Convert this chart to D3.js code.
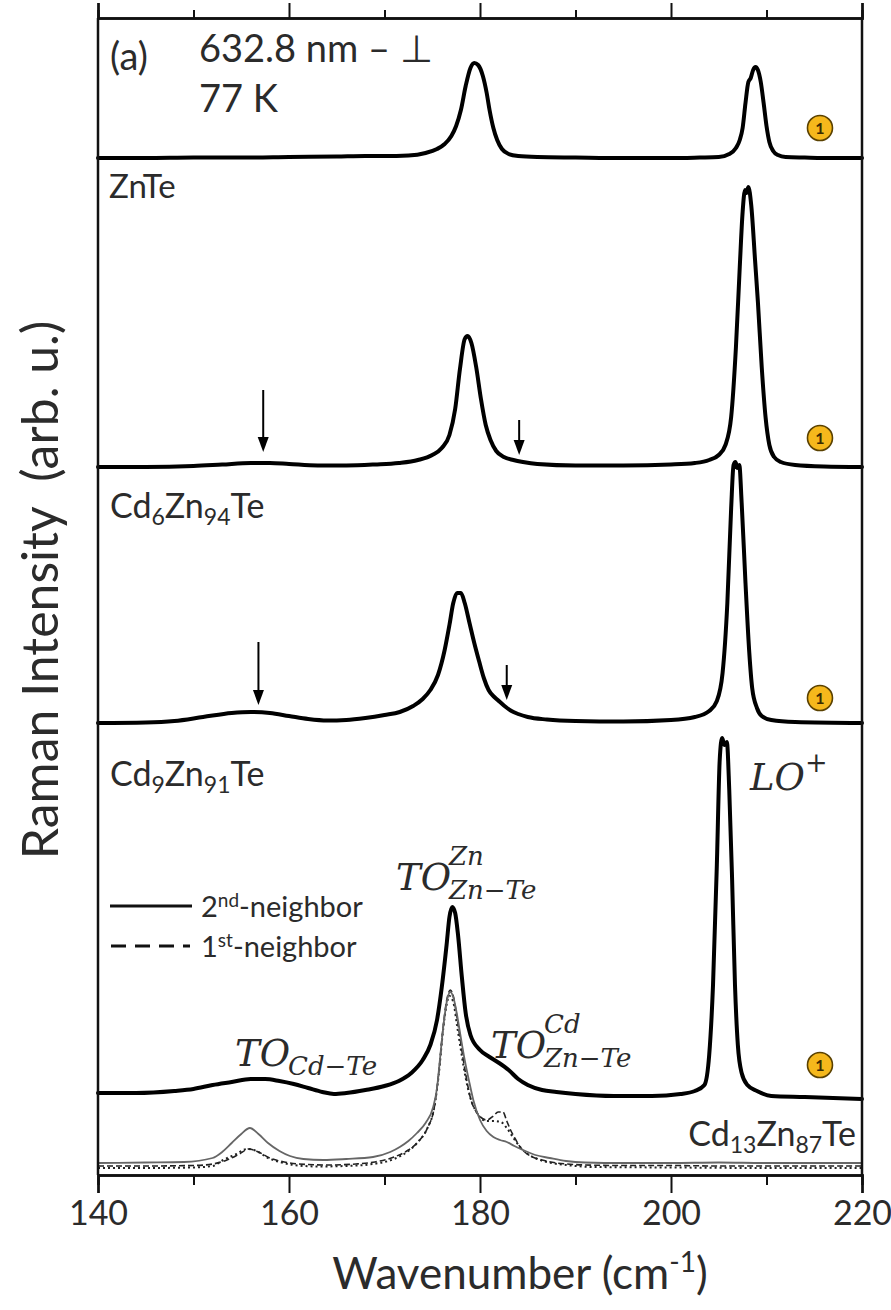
<!DOCTYPE html>
<html><head><meta charset="utf-8">
<script src="https://cdn.jsdelivr.net/npm/d3@7/dist/d3.min.js"></script>
<style>
html,body{margin:0;padding:0;background:#fff;}
svg text{font-family:Lato,"Open Sans",sans-serif;fill:#2b2b2b;}
</style></head>
<body>
<svg id="chart" width="891" height="1310"></svg>
<script>
// ---------- data (wavenumber in cm-1, intensity in arb. u.) ----------
const xTicks = [140, 160, 180, 200, 220];
const xMinorTicks = [150, 170, 190, 210];

const znteX = [140,145,150,155,160,165,168,170,172.5,174.3,175.5,176.3,177,177.5,178,178.5,179,179.4,179.8,180.3,180.7,181,181.4,181.8,182.3,183,184,186,190,195,200,203,205,206.1,206.8,207.2,207.5,207.8,208.1,208.35,208.6,208.85,209.1,209.4,209.7,210,210.3,210.7,211.2,212,214,217,220];
const znteI = [0,0,0.5,0.5,1,1.5,2,2,2.5,5,9,14,22,32,48,72,90,95,93,82,65,48,30,18,9,4,2,1,0.5,0,0,0.5,1,4,10,18,30,55,76,80,88,91,88,76,55,32,16,7,3,1,0.5,0,0];

const cd6X = [140,145,150,153,156,158,160,163,166,169,171.5,173.5,175,176,176.8,177.4,177.9,178.4,178.7,179.1,179.6,180.1,180.6,181.1,181.7,182.5,183.5,184.5,186,190,195,200,202.5,204,205,205.7,206.3,206.8,207.2,207.5,207.75,207.9,208.1,208.4,208.8,209.1,209.5,209.9,210.3,210.8,211.5,213,216,220];
const cd6I = [0,0,1,2.5,4,4,3,1.5,1.5,2.5,4,7,12,19,32,58,98,128,131,124,100,68,42,27,16,10,7,5,3,1.5,1.5,2.5,4,7,12,22,50,120,200,255,277,274,280,262,207,165,100,50,22,10,5,2,0.5,0];

const cd9X = [140,145,148,151,154,156,158,160,162,164,166,168,170,171.6,173,174,174.8,175.6,176.3,176.8,177.2,177.6,178,178.4,178.9,179.4,179.9,180.4,180.9,181.5,182.1,182.7,183.3,184,185,187,190,195,200,202.5,204,204.8,205.4,205.9,206.3,206.55,206.75,206.95,207.15,207.4,207.8,208.2,208.5,209,209.5,210.5,213,220];
const cd9I = [0,0.5,2,6,10,11,10,7,4,2.5,3,5,8,11,17,24,33,48,73,98,120,130,130,120,100,80,62,45,33,26,21,16,12,9,6,3.5,2,1.5,3,6,12,22,50,120,215,258,261,255,258,220,140,70,35,15,7,3,1,0];

const cd13X = [140,144,148,150,152,154,156,157.5,159,160.5,162,163.5,164.7,166,168,170,171.5,172.8,174,174.8,175.5,176,176.5,176.8,177.1,177.4,177.7,178.1,178.5,179,180,181,182,183,184,185,186.5,188,190,194,198,201,202.5,203.5,204,204.4,204.8,205.1,205.35,205.6,205.85,206.1,206.4,206.7,207,207.4,208,209,210.5,214,220];
const cd13I = [2,2,4,6,10,13,16,16,14,11,7,3,1,2,5,9,14,22,35,50,75,108,150,178,188,182,160,118,82,60,45,38,32,25,16,10,5,3,1,-1,-1,1,4,10,40,110,230,335,357,350,353,305,215,110,50,22,10,4,-1,-2,-4];

// calculated spectra (thin curves)
const calc2X = [140,145,149,152,153,154,155,155.9,156.8,157.8,159,160.1,161.5,163.6,166,168.8,170.6,171.6,172.5,173.4,174.3,175.1,175.5,175.8,176.2,176.6,176.9,177.2,177.6,178,178.4,178.9,179.3,180,180.7,181.4,182.1,182.8,183.6,184.5,185.8,187.3,189,191,195,200,205,210,220];
const calc2I = [0,0.5,1,5,11,20,29,35,29,20,12,7,4,3,4,6,11,16,22,30,40,56,75,103,140,165,171,166,148,125,103,80,63,43,32,26,23,21,17,13,8,5,2,0.5,0,0,0.5,0,0];

const calc1X = [140,145,150,152,153.5,154.8,155.8,156.8,158,159.5,161,164,167,169,171,172.5,173.5,174.5,175.2,175.7,176.1,176.5,176.9,177.2,177.6,178,178.5,179,179.7,180.7,181.4,181.9,182.4,182.8,183.2,183.7,184.2,184.8,185.5,186.5,188,189.1,191,195,200,205,210,220];
const calc1I = [0,0,0.5,2,6,12,17,14,8,4,2,1,2,4,9,16,24,38,58,95,135,165,176,170,148,122,92,68,53,46,50,54,54,45,36,27,19,13,9,6,3,2,1,0.5,0.5,0,0,0];

const calc0X = [140,145,150,152,153.1,154.5,155.6,156.6,157.8,159,160.5,163,166,168.8,171,172.5,173.5,174.5,175.2,175.7,176.1,176.5,176.8,177.2,177.6,178,178.5,179,179.7,180.7,181.5,182.2,182.8,183.5,184.2,185,186,187.5,189,192,200,210,220];
const calc0I = [0,0,0.5,2,8,14,19,17,10,6,3,1.5,2,4,9,17,26,40,60,95,135,163,172,166,142,118,90,70,55,47,47,46,40,30,21,14,9,5,3,1,0.5,0,0];

// vertical offsets of the stacked spectra
const offsets = {znte: 1017, cd6: 708, cd9: 452, cd13: 80, calc2: 12, calc1: 9, calc0: 7};

// arrows (height above the series offset)
const arrowSeries = ["cd6", "cd6", "cd9", "cd9"];
const arrowX = [157.3, 184.1, 156.8, 182.8];
const arrowFrom = [77, 47, 81, 58];
const arrowTo = [15, 12, 18, 23];

// badges "1"
const badgeSeries = ["znte", "cd6", "cd9", "cd13"];
const badgeX = 215.6;
const badgeH = [30, 29, 25, 30];

(function () {
// ---------- drawing ----------
const svg = d3.select("#chart");
const L = 98, R = 862, T = 18, B = 1175;
const x = d3.scaleLinear().domain([140, 220]).range([L, R]);
const y = d3.scaleLinear().domain([0, 1157]).range([B, T]);

const line = d3.line().curve(d3.curveMonotoneX);
function path(xs, is, off) {
  return line(xs.map((v, i) => [x(v), y(off + is[i])]));
}

const g = svg.append("g");

// thin calculated curves
g.append("path").attr("d", path(calc0X, calc0I, offsets.calc0))
  .attr("fill", "none").attr("stroke", "#222").attr("stroke-width", 2).attr("stroke-dasharray", "2,3");
g.append("path").attr("d", path(calc1X, calc1I, offsets.calc1))
  .attr("fill", "none").attr("stroke", "#222").attr("stroke-width", 1.6).attr("stroke-dasharray", "6,3");
g.append("path").attr("d", path(calc2X, calc2I, offsets.calc2))
  .attr("fill", "none").attr("stroke", "#666").attr("stroke-width", 1.8);

// measured spectra
[[znteX, znteI, offsets.znte], [cd6X, cd6I, offsets.cd6], [cd9X, cd9I, offsets.cd9], [cd13X, cd13I, offsets.cd13]]
  .forEach(s => {
    g.append("path").attr("d", path(s[0], s[1], s[2]))
      .attr("fill", "none").attr("stroke", "#000").attr("stroke-width", 4)
      .attr("stroke-linejoin", "round").attr("stroke-linecap", "round");
  });

// arrows
arrowX.forEach((v, i) => {
  const off = offsets[arrowSeries[i]];
  const px = x(v), y0 = y(off + arrowFrom[i]), y1 = y(off + arrowTo[i]);
  g.append("line").attr("x1", px).attr("x2", px).attr("y1", y0).attr("y2", y1 - 12)
    .attr("stroke", "#000").attr("stroke-width", 2);
  g.append("path").attr("d", `M${px - 5.5},${y1 - 15} L${px + 5.5},${y1 - 15} L${px},${y1} Z`).attr("fill", "#000");
});

// badges
badgeSeries.forEach((s, i) => {
  const cx = x(badgeX), cy = y(offsets[s] + badgeH[i]);
  g.append("circle").attr("cx", cx).attr("cy", cy).attr("r", 12.5)
    .attr("fill", "#F5B81C").attr("stroke", "#5a4100").attr("stroke-width", 1.6);
  g.append("text").attr("x", cx).attr("y", cy + 6).attr("text-anchor", "middle")
    .style("font-size", "16px").style("font-weight", "bold").style("fill", "#3a2a00").text("1");
});

// axes
const ax = svg.append("g");
const axB = ax.append("g").attr("transform", `translate(0,${B})`)
  .call(d3.axisBottom(x).tickValues(xTicks).tickSize(18).tickPadding(8).tickFormat(d3.format("d")));
ax.append("g").attr("transform", `translate(0,${B})`)
  .call(d3.axisBottom(x).tickValues(xMinorTicks).tickSize(10).tickFormat(""));
ax.append("g").attr("transform", `translate(0,${T})`)
  .call(d3.axisTop(x).tickValues(xTicks).tickSize(15).tickFormat(""));
ax.append("g").attr("transform", `translate(0,${T})`)
  .call(d3.axisTop(x).tickValues(xMinorTicks).tickSize(8).tickFormat(""));
ax.selectAll(".domain").attr("stroke", "#111").attr("stroke-width", 2.5);
ax.selectAll(".tick line").attr("stroke", "#111").attr("stroke-width", 2);
axB.selectAll(".tick text").style("font-size", "34px").style("font-family", "Lato").attr("fill", "#2b2b2b");
ax.append("line").attr("x1", L).attr("x2", L).attr("y1", T).attr("y2", B).attr("stroke", "#111").attr("stroke-width", 2.5);
ax.append("line").attr("x1", R).attr("x2", R).attr("y1", T).attr("y2", B).attr("stroke", "#111").attr("stroke-width", 2.5);

// ---------- text ----------
function rich(sel, parts) {
  parts.forEach(p => {
    const t = sel.append("tspan").text(p.t);
    if (p.s) t.style("font-size", p.s + "px");
    if (p.dy) t.attr("dy", p.dy);
  });
  return sel;
}

svg.append("text").attr("x", 110).attr("y", 70).style("font-size", "38px").text("(a)");
svg.append("text").attr("x", 199).attr("y", 62).style("font-size", "38px").text("632.8 nm – ⊥");
svg.append("text").attr("x", 199).attr("y", 112).style("font-size", "38px").text("77 K");

svg.append("text").attr("x", 109).attr("y", 198).style("font-size", "33px").text("ZnTe");
rich(svg.append("text").attr("x", 110).attr("y", 518).style("font-size", "34px"),
  [{t: "Cd"}, {t: "6", s: 23, dy: 7}, {t: "Zn", dy: -7}, {t: "94", s: 23, dy: 7}, {t: "Te", dy: -7}]);
rich(svg.append("text").attr("x", 110).attr("y", 786).style("font-size", "34px"),
  [{t: "Cd"}, {t: "9", s: 23, dy: 7}, {t: "Zn", dy: -7}, {t: "91", s: 23, dy: 7}, {t: "Te", dy: -7}]);
rich(svg.append("text").attr("x", 856).attr("y", 1146).attr("text-anchor", "end").style("font-size", "34px"),
  [{t: "Cd"}, {t: "13", s: 23, dy: 7}, {t: "Zn", dy: -7}, {t: "87", s: 23, dy: 7}, {t: "Te", dy: -7}]);

// mode labels (math italic)
const mf = "'DejaVu Serif', 'Liberation Serif', serif";
function mode(xp, yp, main, sub, sup) {
  const t = svg.append("text").attr("x", xp).attr("y", yp)
    .style("font-family", mf).style("font-style", "italic").style("font-size", "37px");
  t.append("tspan").text(main);
  const w = 53;
  if (sup) t.append("tspan").attr("x", xp + w).attr("y", yp - 25).style("font-size", "26px").text(sup);
  if (sub) t.append("tspan").attr("x", xp + w).attr("y", yp + 9).style("font-size", "26px").text(sub);
}
mode(396, 890, "TO", "Zn−Te", "Zn");
mode(235, 1066, "TO", "Cd−Te", null);
mode(491, 1058, "TO", "Zn−Te", "Cd");
const lo = svg.append("text").attr("x", 750).attr("y", 790)
  .style("font-family", mf).style("font-style", "italic").style("font-size", "37px");
lo.append("tspan").text("LO");
lo.append("tspan").attr("dy", -18).style("font-size", "27px").style("font-style", "normal").text("+");

// legend
const lg = svg.append("g");
lg.append("line").attr("x1", 110).attr("x2", 192).attr("y1", 906).attr("y2", 906).attr("stroke", "#111").attr("stroke-width", 3);
lg.append("line").attr("x1", 111).attr("x2", 190).attr("y1", 946).attr("y2", 946).attr("stroke", "#111").attr("stroke-width", 3).attr("stroke-dasharray", "15,9");
rich(lg.append("text").attr("x", 201).attr("y", 917).style("font-size", "29px"),
  [{t: "2"}, {t: "nd", s: 19, dy: -10}, {t: "-neighbor", dy: 10}]);
rich(lg.append("text").attr("x", 201).attr("y", 957).style("font-size", "29px"),
  [{t: "1"}, {t: "st", s: 19, dy: -10}, {t: "-neighbor", dy: 10}]);

// axis titles
rich(svg.append("text").attr("x", 520).attr("y", 1289).attr("text-anchor", "middle").style("font-size", "44px"),
  [{t: "Wavenumber (cm"}, {t: "-1", s: 28, dy: -17}, {t: ")", dy: 17}]);
svg.append("text").attr("transform", "translate(58,590) rotate(-90)").attr("text-anchor", "middle")
  .style("font-size", "50px").style("white-space", "pre").text("Raman Intensity  (arb. u.)");
})();
</script>
</body></html>
